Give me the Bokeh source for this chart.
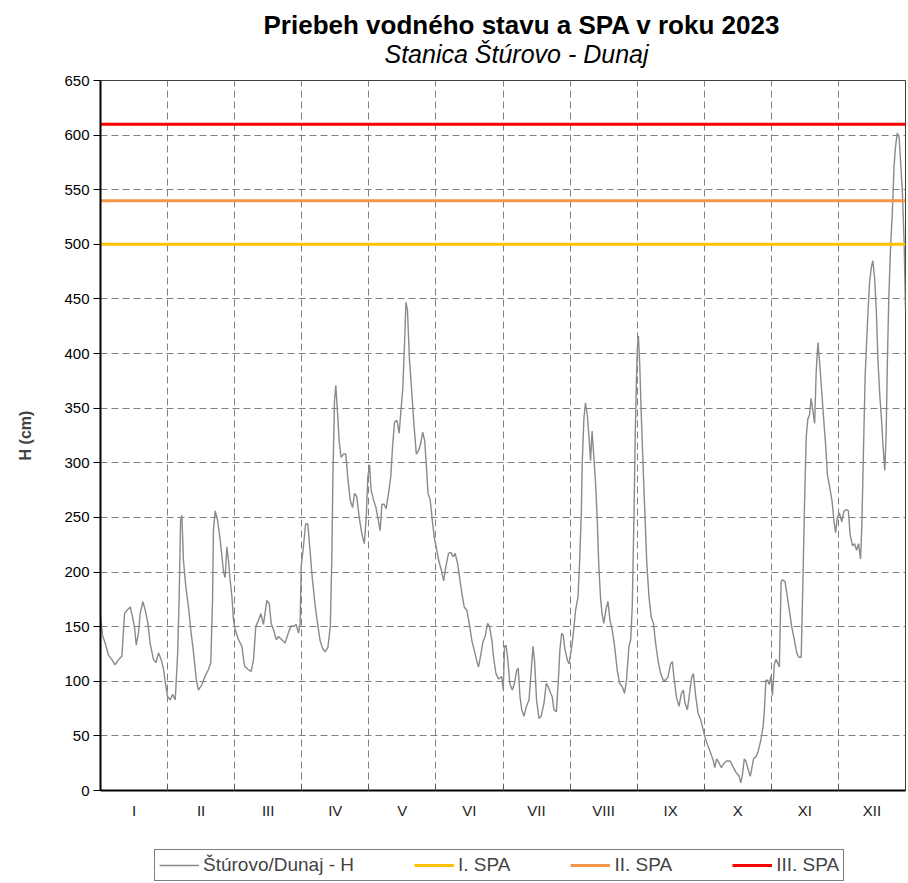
from bokeh.plotting import figure
from bokeh.layouts import column
from bokeh.models import Range1d, FixedTicker, Title, Legend, LegendItem
from bokeh.embed import file_html
from bokeh.resources import INLINE

# ---- data ----
day = [
    0, 0.9, 2.1, 3.6, 5.1, 6.6, 8.2, 9.7, 10.9, 12.0, 13.5, 14.2, 15.4, 16.2, 17.2, 18.0, 19.2, 20.3,
    21.5, 22.5, 24.0, 25.1, 26.3, 27.5, 28.6, 29.3, 30.4, 31.6, 32.7, 33.9, 35.0, 35.7, 36.3, 36.9,
    37.6, 38.7, 39.9, 41.1, 42.2, 43.4, 44.4, 46.0, 47.5, 49.0, 50.0, 50.8, 51.2, 52.0, 53.1, 54.3,
    55.8, 56.5, 57.3, 58.0, 58.8, 59.6, 60.3, 61.1, 62.6, 64.1, 65.3, 66.8, 68.3, 69.4, 70.4, 71.7,
    72.7, 73.9, 75.4, 76.5, 77.4, 78.5, 79.7, 80.7, 82.2, 83.7, 85.3, 86.5, 87.5, 88.7, 89.8,
    90.5, 91.0, 92.0, 93.0, 94.0, 95.0, 96.0, 97.4, 98.4, 99.6, 100.7, 101.9, 103.1, 104.2, 104.9,
    105.4, 106.1, 106.7, 107.5, 108.2, 109.1, 110.2, 111.2, 112.1, 113.2, 114.3, 115.2, 116.2,
    117.3, 118.5, 119.6, 120.5, 121.2, 122.0, 122.7, 123.8, 124.9, 126.0, 126.8, 127.6, 128.6,
    129.5, 130.6, 131.6, 132.4, 133.3, 134.4, 135.4, 136.4, 137.1, 137.9, 138.5, 139.2, 140.1,
    141.2, 142.2, 143.2, 144.2, 145.1, 146.1, 147.0, 147.7, 148.5, 149.5, 150.3, 151.3, 152.2,
    153.3, 154.5, 155.6, 156.6, 157.8, 158.9, 159.8, 160.8, 161.9, 162.8, 163.9, 164.9, 166.1,
    167.2, 168.4, 169.5, 170.7, 171.4, 172.5, 173.4, 174.4, 175.5, 176.4, 177.5, 178.2, 179.3,
    180.5, 181.5,
    181.9, 182.6, 183.2, 183.9, 184.7, 185.6, 186.7, 187.7, 188.7, 189.4, 190.2, 191.0, 192.0,
    193.1, 194.3, 195.3, 196.1, 196.8, 197.7, 198.8, 199.8, 201.1, 202.1, 203.0, 204.1, 204.8,
    205.6, 206.7, 207.6, 208.3, 209.1, 209.8, 210.6, 211.7, 212.4, 213.5, 214.4, 215.4, 216.5,
    217.2, 218.0, 218.4, 219.2, 219.9, 220.7, 221.4, 222.2, 222.9, 223.7, 224.4, 225.2, 225.9,
    226.7, 227.4, 228.2, 229.1, 230.1, 231.0, 232.0, 233.1, 234.3, 235.4, 236.6, 237.6, 238.5,
    239.6, 240.4, 241.1, 241.9, 242.5, 243.0, 243.4, 243.9, 244.5, 245.2, 246.1, 246.9, 247.7,
    248.7, 249.7, 250.7, 251.7, 252.8, 254.0, 255.2, 256.2, 257.3, 258.5, 259.3, 260.0, 261.1,
    262.3, 263.4, 264.3, 265.0, 266.1, 267.1, 268.0, 268.8, 269.9, 270.9, 272.1,
    273.0, 273.9, 275.2, 276.7, 277.9, 278.5, 279.4, 280.5, 281.5, 282.7, 283.9, 285.5, 286.5,
    288.0, 289.6, 290.3, 291.1, 291.9, 292.6, 293.7, 294.6, 295.2, 296.1, 297.2, 298.2, 299.4,
    300.4, 301.0, 301.7, 302.5, 303.2, 304.0, 304.7, 305.5, 306.2, 307.0, 307.8, 308.6, 309.3,
    310.4, 311.3, 312.4, 313.4, 314.6, 315.7, 316.6, 317.7, 318.4, 319.2, 320.0, 320.7, 321.5,
    322.2, 323.0, 323.8, 324.5, 325.3, 326.1, 326.8, 327.9, 328.8, 329.6, 330.7, 331.7, 332.6,
    333.3, 334.1, 335.0, 336.1, 337.1, 338.4, 339.1, 339.9, 341.0, 341.9, 342.8, 343.7, 344.6,
    345.2, 346.0, 346.7, 347.8, 348.7, 349.5, 350.2, 351.0, 351.8, 352.5, 353.3, 354.1, 354.8,
    355.6, 356.2, 356.8, 357.4, 358.2, 359.0, 359.8, 360.5, 361.3, 362.1, 362.8, 363.6, 364.4,
    365.0,
]
level_cm = [
    160, 142, 135, 124, 120, 115, 120, 123, 162, 165, 168, 162, 150, 133, 144, 162, 173, 165,
    153, 135, 120, 117, 126, 120, 111, 100, 86, 83, 88, 83, 126, 180, 247, 252,
    211, 186, 168, 144, 126, 102, 92, 97, 105, 111, 117, 174, 238, 256, 247, 229,
    200, 195, 223, 211, 192, 177, 156, 147, 138, 132, 114, 111, 109, 120, 150, 156,
    162, 152, 174, 171, 153, 147, 138, 141, 138, 135, 145, 151, 150, 152, 144,
    153, 205, 223, 244, 244, 220, 195, 168, 153, 137, 130, 127, 131, 150, 214,
    290, 357, 371, 345, 320, 305, 308, 308, 287, 266, 259, 272, 269,
    250, 235, 226, 250, 287, 298, 275, 266, 259, 247, 238, 262, 262,
    258, 272, 287, 314, 337, 339, 327, 352, 369, 412, 447, 439, 394,
    363, 333, 308, 311, 317, 328, 320, 299, 272, 266, 250, 232, 223,
    211, 202, 192, 205, 217, 218, 214, 217, 208, 195, 180, 168, 165,
    153, 137, 128, 118, 113, 125, 136, 141, 153, 150, 137, 122, 107,
    102, 104,
    104, 92, 132, 133, 119, 98, 92, 98, 110, 112, 86, 74, 68,
    77, 83, 110, 132, 119, 83, 66, 68, 80, 98, 95, 89, 86,
    74, 72, 101, 129, 144, 142, 129, 119, 116, 129, 144, 165, 177,
    208, 253, 299, 341, 355, 344, 326, 302, 329, 305, 284, 250, 208,
    177, 162, 153, 165, 173, 156, 147, 132, 110, 98, 95, 89, 101,
    132, 138, 168, 253, 329, 375, 405, 416, 390, 344, 293, 250, 208,
    177, 159, 153, 135, 119, 107, 101, 101, 104, 116, 118, 104, 86,
    77, 89, 92, 80, 74, 89, 103, 107, 86, 71, 65,
    58, 50, 42, 34, 27, 21, 29, 25, 21, 25, 27, 27, 23,
    17, 13, 7, 15, 29, 27, 19, 13, 19, 29, 31, 36, 46,
    58, 73, 101, 101, 97, 105, 87, 115, 120, 117, 113, 191, 193,
    191, 179, 164, 150, 138, 126, 122, 122, 183, 261, 324, 340, 344,
    359, 348, 336, 383, 410, 391, 371, 340, 316, 289, 277, 265, 246,
    236, 250, 254, 246, 256, 257, 256, 234, 224, 226, 220, 226, 212,
    242, 316, 379, 430, 465, 479, 485, 469, 438, 394, 363, 340, 316,
    293, 324, 394, 449, 496, 528, 571, 590, 602, 598, 575, 547, 500,
    440,
]

months = ["I", "II", "III", "IV", "V", "VI", "VII", "VIII", "IX", "X", "XI", "XII"]
spa_names = ["I. SPA", "II. SPA", "III. SPA"]
spa_levels = [500, 540, 610]
spa_colors = ["#FFC000", "#F79646", "#FF0000"]
series_name = "Štúrovo/Dunaj - H"
series_color = "#8a8a8a"
title_text = "Priebeh vodného stavu a  SPA v roku 2023"
subtitle_text = "Stanica Štúrovo - Dunaj"
y_ticks = list(range(0, 651, 50))

DAYS = 365
X0, X1 = 0, DAYS
month_len = DAYS / 12
bounds = [month_len * k for k in range(1, 12)]
centers = [month_len * (k + 0.5) for k in range(12)]

FONT = "Liberation Sans"

p = figure(
    frame_width=805, frame_height=710,
    min_border_left=100, min_border_right=3, min_border_top=80, min_border_bottom=45,
    x_range=Range1d(X0, X1), y_range=Range1d(0, 650),
    output_backend="svg", toolbar_location=None,
)
p.title = None
p.background_fill_color = "white"
p.border_fill_color = "white"
p.outline_line_color = "#404040"
p.outline_line_width = 1

# titles
p.add_layout(Title(text=subtitle_text, align="left", text_font=FONT,
                   text_font_size="25px", text_font_style="italic", text_color="black",
                   offset=284, standoff=26), "above")
p.add_layout(Title(text=title_text, align="left", text_font=FONT,
                   text_font_size="26px", text_font_style="bold", text_color="black",
                   offset=163, standoff=-31), "above")

# axes
p.yaxis.ticker = FixedTicker(ticks=y_ticks)
p.yaxis.major_label_text_font = FONT
p.yaxis.major_label_text_font_size = "15px"
p.yaxis.major_label_text_color = "black"
p.yaxis.major_tick_out = 7
p.yaxis.major_tick_in = 0
p.yaxis.minor_tick_line_color = None
p.yaxis.major_label_standoff = 4
p.yaxis.axis_line_width = 2
p.yaxis.axis_line_color = "black"
p.yaxis.major_tick_line_color = "black"
p.yaxis.axis_label = "H (cm)"
p.yaxis.axis_label_text_font = FONT
p.yaxis.axis_label_text_font_size = "16px"
p.yaxis.axis_label_text_font_style = "bold"
p.yaxis.axis_label_standoff = 27

p.xaxis.ticker = FixedTicker(ticks=centers, minor_ticks=bounds)
p.xaxis.major_label_overrides = {c: m for c, m in zip(centers, months)}
p.xaxis.major_label_text_font = FONT
p.xaxis.major_label_text_font_size = "15px"
p.xaxis.major_label_text_color = "#222222"
p.xaxis.major_tick_in = 0
p.xaxis.major_tick_out = 0
p.xaxis.minor_tick_in = 6
p.xaxis.minor_tick_out = 0
p.xaxis.minor_tick_line_color = "#555555"
p.xaxis.major_label_standoff = 11
p.xaxis.axis_line_width = 2
p.xaxis.axis_line_color = "black"

# grids
p.ygrid.ticker = FixedTicker(ticks=[t for t in y_ticks if 0 < t < 650])
p.xgrid.ticker = FixedTicker(ticks=bounds)
for g in (p.xgrid, p.ygrid):
    g.grid_line_color = "#808080"
    g.grid_line_dash = "7 4"
    g.grid_line_width = 1

# series
p.line(day, level_cm, line_color=series_color, line_width=1.4)
for lvl, col in zip(spa_levels, spa_colors):
    p.line([X0, X1], [lvl, lvl], line_color=col, line_width=3)

# legend strip (separate figure below the chart; its series lie outside its view)
lg = figure(width=908, height=48, x_range=Range1d(0, 1), y_range=Range1d(0, 1),
            min_border=0, x_axis_location=None, y_axis_location=None,
            output_backend="svg", toolbar_location=None)
lg.title = None
lg.grid.visible = False
lg.outline_line_color = None
lg.background_fill_color = "white"
lg.border_fill_color = "white"
items = [LegendItem(label=series_name,
                    renderers=[lg.line(day, level_cm, line_color=series_color, line_width=1.4)])]
for name, lvl, col in zip(spa_names, spa_levels, spa_colors):
    items.append(LegendItem(label=name,
                            renderers=[lg.line([X0, X1], [lvl, lvl], line_color=col, line_width=3)]))
legend = Legend(items=items, orientation="horizontal", location=(54, 2),
                label_text_font=FONT, label_text_font_size="19px",
                glyph_width=40, glyph_height=18, label_standoff=4, spacing=60,
                padding=4, margin=0, border_line_color="black", border_line_width=1.5,
                background_fill_color="white")
lg.add_layout(legend, "center")

layout = column(p, lg, spacing=0)
open("out.html", "w").write(file_html(layout, INLINE))
